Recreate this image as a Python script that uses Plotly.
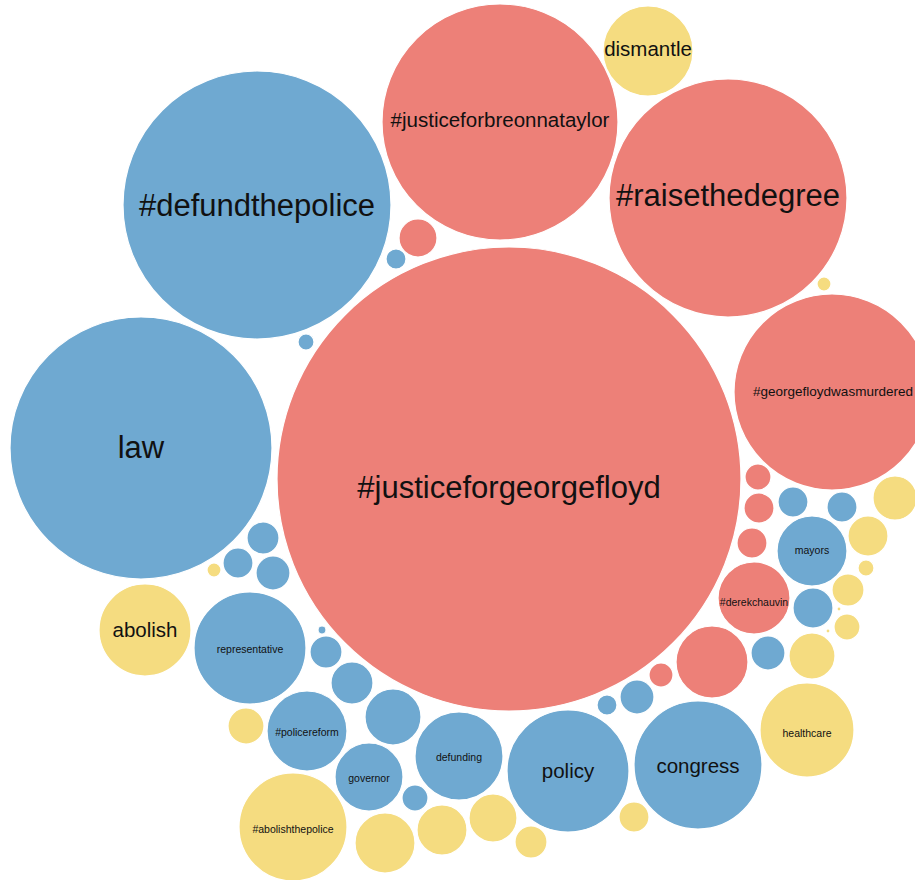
import plotly.graph_objects as go

# Packed bubble data: label, group, centre (x, y in px of the packing), radius
labels = ["#justiceforgeorgefloyd", "#defundthepolice", "law", "#justiceforbreonnataylor",
          "dismantle", "#raisethedegree", "", "#georgefloydwasmurdered",
          "", "", "",
          "", "", "", "",
          "abolish", "representative", "", "", "", "", "",
          "#policereform", "governor", "", "defunding", "#abolishthepolice", "", "",
          "", "", "policy", "", "congress",
          "", "", "", "",
          "healthcare", "", "", "#derekchauvin", "", "", "", "", "", "", "",
          "mayors", "", "", "", "", "", ""]
groups = ["r", "b", "b", "r",
          "y", "r", "y", "r",
          "r", "b", "b",
          "b", "b", "b", "y",
          "y", "b", "b", "b", "b", "b", "y",
          "b", "b", "b", "b", "y", "y", "y",
          "y", "y", "b", "y", "b",
          "b", "b", "r", "r",
          "y", "b", "y", "r", "b", "y", "y", "y", "y", "y", "y",
          "b", "b", "b", "y", "r", "r", "r"]
cx = [509, 257, 141, 500,
      648, 728, 824, 832,
      418, 396, 306,
      263, 238, 273, 214,
      145, 250, 322, 326, 352, 393, 246,
      307, 369, 415, 459, 293, 385, 442,
      493, 531, 568, 634, 698,
      607, 637, 661, 712,
      807, 768, 812, 754, 813, 847, 848, 839, 828, 866, 868,
      812, 793, 842, 895, 758, 759, 752]
cy = [479, 205, 448, 122,
      51, 198, 284, 392,
      238, 259, 342,
      538, 563, 573, 570,
      630, 648, 630, 652, 683, 717, 726,
      731, 777, 798, 756, 827, 843, 830,
      818, 842, 771, 817, 765,
      705, 697, 675, 662,
      730, 653, 656, 598, 608, 627, 590, 609, 631, 568, 536,
      551, 502, 507, 498, 477, 508, 543]
radius = [232, 134, 131, 118,
          45, 119, 7, 98,
          19, 10, 8,
          16, 15, 17, 7,
          46, 56, 4, 16, 21, 28, 18,
          40, 34, 13, 44, 54, 30, 25,
          24, 16, 61, 15, 64,
          10, 17, 12, 36,
          47, 17, 23, 36, 20, 13, 16, 2, 2, 8, 20,
          35, 15, 15, 22, 13, 15, 15]
label_size = [31, 31, 31, 20.5,
              20.5, 31, 0, 13.5,
              0, 0, 0,
              0, 0, 0, 0,
              20.5, 10.5, 0, 0, 0, 0, 0,
              10.5, 10.5, 0, 10.5, 10.5, 0, 0,
              0, 0, 20.5, 0, 20.5,
              0, 0, 0, 0,
              10.5, 0, 0, 10.5, 0, 0, 0, 0, 0, 0, 0,
              10.5, 0, 0, 0, 0, 0, 0]
label_dy = [11, 3, 2, 0,
            0, 0, 0, 1,
            0, 0, 0,
            0, 0, 0, 0,
            2, 2, 0, 0, 0, 0, 0,
            2, 2, 0, 2, 3, 0, 0,
            0, 0, 2, 0, 3,
            0, 0, 0, 0,
            4, 0, 0, 5, 0, 0, 0, 0, 0, 0, 0,
            0, 0, 0, 0, 0, 0, 0]
label_dx = [0, 0, 0, 0,
            0, 0, 0, 1,
            0, 0, 0,
            0, 0, 0, 0,
            0, 0, 0, 0, 0, 0, 0,
            0, 0, 0, 0, 0, 0, 0,
            0, 0, 0, 0, 0,
            0, 0, 0, 0,
            0, 0, 0, 0, 0, 0, 0, 0, 0, 0, 0,
            0, 0, 0, 0, 0, 0, 0]

palette = {"r": "#ed8078", "b": "#6fa9d1", "y": "#f5dc80"}

W, H = 915, 880
fig = go.Figure()

shapes = []
for x, y, r, g in zip(cx, cy, radius, groups):
    shapes.append(dict(type="circle", xref="x", yref="y",
                       x0=x - r, x1=x + r, y0=y - r, y1=y + r,
                       fillcolor=palette[g], line=dict(color="white", width=1.2),
                       layer="below"))

lx = [x + d for x, d, t in zip(cx, label_dx, labels) if t]
ly = [y + d for y, d, t in zip(cy, label_dy, labels) if t]
lt = [t for t in labels if t]
ls = [s for s, t in zip(label_size, labels) if t]

fig.add_trace(go.Scatter(x=lx, y=ly, text=lt, mode="text",
                         textfont=dict(size=ls, color="#111111",
                                       family="Liberation Sans, Arial, Helvetica, sans-serif"),
                         textposition="middle center", hoverinfo="text",
                         showlegend=False, cliponaxis=True))

fig.update_layout(width=W, height=H, margin=dict(l=0, r=0, t=0, b=0),
                  paper_bgcolor="white", plot_bgcolor="white", shapes=shapes,
                  xaxis=dict(range=[0, W], visible=False, fixedrange=True),
                  yaxis=dict(range=[H, 0], visible=False, fixedrange=True),
                  showlegend=False)

fig.write_html("out.html",
               config={"displayModeBar": False},
               post_script="document.body.style.margin='0';"
                           "document.body.style.overflow='hidden';")
